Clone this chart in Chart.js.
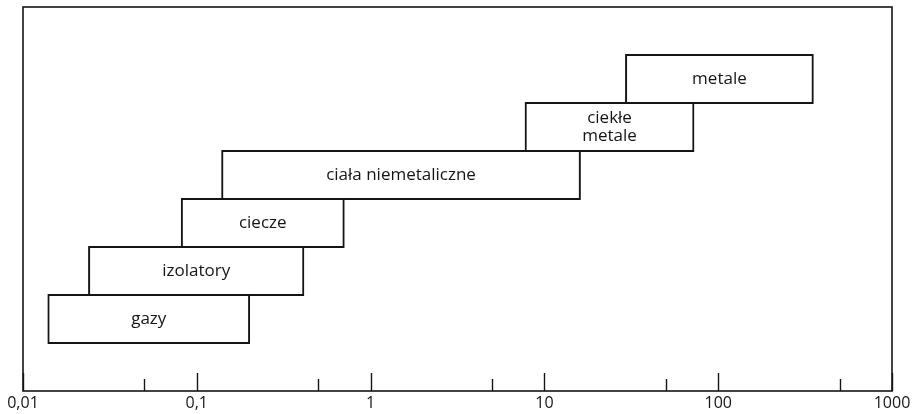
<!DOCTYPE html>
<html><head><meta charset="utf-8">
<script src="https://cdn.jsdelivr.net/npm/chart.js@4/dist/chart.umd.min.js"></script>
<style>html,body{margin:0;padding:0;background:#fff}#wrap{width:914px;height:414px}</style>
</head><body><div id="wrap"><canvas id="c"></canvas></div>
<script>
// categories top to bottom (empty slots above and below)
const categories = ['', 'metale', 'ciekłe\nmetale', 'ciała niemetaliczne', 'ciecze', 'izolatory', 'gazy', ''];
const rangeStart = [null, 29.5, 7.8, 0.14, 0.082, 0.024, 0.014, null];
const rangeEnd   = [null, 350, 72, 16, 0.70, 0.41, 0.20, null];
const majorTicks = [0.01, 0.1, 1, 10, 100, 1000];
const majorTickLabels = ['0,01', '0,1', '1', '10', '100', '1000'];
const minorTicks = [0.05, 0.5, 5, 50, 500];

const FONT = '"Open Sans", "DejaVu Sans", sans-serif';
const INK = '#151515';

const ranges = rangeStart.map((s, i) => (s === null ? null : [s, rangeEnd[i]]));

const barLabels = {
  id: 'barLabels',
  afterDatasetsDraw(chart) {
    const ctx = chart.ctx;
    const meta = chart.getDatasetMeta(0);
    ctx.save();
    ctx.fillStyle = INK;
    ctx.font = '500 17px ' + FONT;
    ctx.textAlign = 'center';
    ctx.textBaseline = 'middle';
    meta.data.forEach((el, i) => {
      if (ranges[i] === null) return;
      const lines = categories[i].split('\n');
      const cx = (el.x + el.base) / 2;
      const lh = 18;
      const y0 = el.y - (lines.length - 1) * lh / 2;
      lines.forEach((t, k) => ctx.fillText(t, cx, y0 + k * lh));
    });
    ctx.restore();
  }
};

const frameAndTicks = {
  id: 'frameAndTicks',
  afterDraw(chart) {
    const ctx = chart.ctx;
    const a = chart.chartArea;
    const xs = chart.scales.x;
    ctx.save();
    ctx.strokeStyle = INK;
    ctx.lineWidth = 1.6;
    ctx.strokeRect(a.left, a.top, a.right - a.left, a.bottom - a.top);
    ctx.lineWidth = 1.4;
    majorTicks.forEach(v => {
      const x = Math.round(xs.getPixelForValue(v)) + 0.5;
      ctx.beginPath(); ctx.moveTo(x, a.bottom); ctx.lineTo(x, a.bottom - 18); ctx.stroke();
    });
    minorTicks.forEach(v => {
      const x = Math.round(xs.getPixelForValue(v)) + 0.5;
      ctx.beginPath(); ctx.moveTo(x, a.bottom); ctx.lineTo(x, a.bottom - 12); ctx.stroke();
    });
    ctx.restore();
  }
};

new Chart(document.getElementById('c'), {
  type: 'bar',
  data: {
    labels: categories,
    datasets: [{
      data: ranges,
      backgroundColor: '#ffffff',
      borderColor: INK,
      borderWidth: 2,
      borderSkipped: false,
      inflateAmount: 1,
      barPercentage: 1,
      categoryPercentage: 1
    }]
  },
  options: {
    indexAxis: 'y',
    responsive: true,
    maintainAspectRatio: false,
    animation: false,
    layout: { padding: { left: 23, right: 22, top: 7, bottom: 2 } },
    plugins: { legend: { display: false }, tooltip: { enabled: false } },
    scales: {
      x: {
        type: 'logarithmic',
        min: 0.01,
        max: 1000,
        afterBuildTicks(scale) { scale.ticks = majorTicks.map(v => ({ value: v })); },
        afterFit(scale) { scale.height = 21; },
        ticks: {
          autoSkip: false,
          maxRotation: 0,
          color: INK,
          font: { family: FONT, size: 16, weight: '500' },
          padding: 3,
          callback(value) {
            const i = majorTicks.indexOf(value);
            return i >= 0 ? majorTickLabels[i] : '';
          }
        },
        grid: { display: false, drawTicks: false },
        border: { display: false }
      },
      y: {
        display: false,
        grid: { display: false }
      }
    }
  },
  plugins: [barLabels, frameAndTicks]
});
</script>
</body></html>
